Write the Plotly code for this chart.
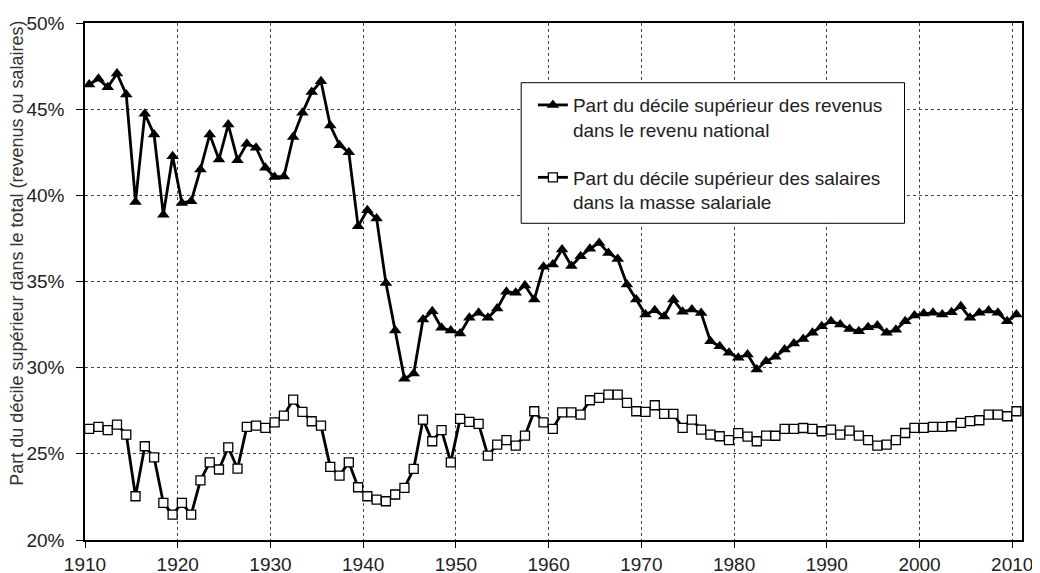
import plotly.graph_objects as go

# Years 1910-2010
years = list(range(1910, 2011))

# Part du décile supérieur des revenus dans le revenu national (%)
revenus = [
    46.43, 46.76, 46.27, 47.07, 45.85, 39.62, 44.73, 43.53, 38.87, 42.27,
    39.56, 39.66, 41.50, 43.53, 42.08, 44.11, 42.04, 42.99, 42.76, 41.60,
    41.07, 41.10, 43.39, 44.79, 45.99, 46.62, 44.05, 42.91, 42.50, 38.21,
    39.14, 38.65, 34.92, 32.15, 29.35, 29.66, 32.79, 33.27, 32.31, 32.15,
    31.98, 32.89, 33.18, 32.89, 33.43, 34.40, 34.34, 34.77, 33.95, 35.85,
    35.98, 36.85, 35.90, 36.47, 36.90, 37.24, 36.66, 36.31, 34.82, 33.95,
    33.08, 33.33, 32.97, 33.95, 33.25, 33.37, 33.17, 31.53, 31.24, 30.86,
    30.57, 30.77, 29.89, 30.37, 30.63, 31.05, 31.40, 31.67, 32.02, 32.40,
    32.69, 32.50, 32.25, 32.11, 32.35, 32.44, 32.02, 32.20, 32.69, 33.02,
    33.14, 33.18, 33.08, 33.22, 33.56, 32.89, 33.18, 33.31, 33.18, 32.69,
    33.08,
]

# Part du décile supérieur des salaires dans la masse salariale (%)
salaires = [
    26.45, 26.56, 26.37, 26.70, 26.12, 22.54, 25.44, 24.80, 22.15, 21.47,
    22.15, 21.47, 23.46, 24.51, 24.09, 25.38, 24.14, 26.56, 26.64, 26.51,
    26.83, 27.22, 28.15, 27.43, 26.89, 26.64, 24.24, 23.74, 24.51, 23.06,
    22.54, 22.34, 22.25, 22.64, 23.02, 24.13, 26.99, 25.73, 26.37, 24.51,
    27.03, 26.85, 26.74, 24.90, 25.54, 25.79, 25.48, 26.06, 27.47, 26.83,
    26.45, 27.41, 27.41, 27.28, 28.11, 28.25, 28.44, 28.44, 27.96, 27.47,
    27.43, 27.82, 27.32, 27.32, 26.51, 26.99, 26.41, 26.12, 26.02, 25.79,
    26.20, 26.00, 25.73, 26.06, 26.05, 26.45, 26.45, 26.50, 26.45, 26.31,
    26.40, 26.12, 26.35, 26.06, 25.79, 25.48, 25.54, 25.79, 26.21, 26.51,
    26.51, 26.56, 26.56, 26.60, 26.80, 26.90, 26.95, 27.28, 27.28, 27.18,
    27.47,
]

x_tick_years = list(range(1910, 2011, 10))
y_ticks = [20, 25, 30, 35, 40, 45, 50]

FONT = "Liberation Sans, Arial, sans-serif"

fig = go.Figure()

fig.add_trace(
    go.Scatter(
        x=years,
        y=revenus,
        name="Part du décile supérieur des revenus<br>dans le revenu national",
        mode="lines+markers",
        line=dict(color="black", width=2.8),
        marker=dict(symbol="triangle-up", size=11, color="black"),
        legendgroup="a",
    )
)

fig.add_trace(
    go.Scatter(
        x=years,
        y=salaires,
        name="Part du décile supérieur des salaires<br>dans la masse salariale",
        mode="lines+markers",
        line=dict(color="black", width=2.8),
        marker=dict(
            symbol="square",
            size=9,
            color="white",
            line=dict(color="black", width=1.3),
        ),
        legendgroup="b",
    )
)

# points sit a bit to the right of the decade gridlines in the original
fig.update_xaxes(
    range=[1909.55, 2010.6],
    tickvals=[t - 0.45 for t in x_tick_years],
    ticktext=[str(t) for t in x_tick_years],
    showgrid=True,
    gridcolor="#444",
    griddash="dot",
    gridwidth=1,
    showline=True,
    linecolor="black",
    linewidth=1.5,
    mirror=True,
    ticks="outside",
    ticklen=6,
    tickcolor="black",
    ticklabelstandoff=0,
    tickfont=dict(size=19, color="#222", family=FONT),
    zeroline=False,
    automargin=False,
)

fig.update_yaxes(
    range=[20, 50],
    tickvals=y_ticks,
    ticktext=[f"{v}%" for v in y_ticks],
    showgrid=True,
    gridcolor="#444",
    griddash="dot",
    gridwidth=1,
    showline=True,
    linecolor="black",
    linewidth=1.5,
    mirror=True,
    ticks="outside",
    ticklen=7,
    tickcolor="black",
    ticklabelstandoff=8,
    tickfont=dict(size=19, color="#222", family=FONT),
    zeroline=False,
    automargin=False,
)

fig.add_annotation(
    text="Part du décile supérieur dans le total (revenus ou salaires)",
    xref="paper",
    yref="paper",
    x=-0.073,
    y=0.555,
    xanchor="center",
    yanchor="middle",
    textangle=-90,
    showarrow=False,
    font=dict(size=18, color="#333", family=FONT),
)

# legend frame
fig.add_shape(
    type="rect",
    xref="paper",
    yref="paper",
    x0=0.4655,
    x1=0.8746,
    y0=0.6126,
    y1=0.8845,
    fillcolor="white",
    line=dict(color="black", width=1),
    layer="above",
)

fig.update_layout(
    width=1040,
    height=573,
    plot_bgcolor="white",
    paper_bgcolor="white",
    margin=dict(l=77, r=26, t=15, b=41),
    font=dict(family=FONT, color="#222"),
    legend=dict(
        x=0.478,
        y=0.878,
        xanchor="left",
        yanchor="top",
        bgcolor="rgba(0,0,0,0)",
        borderwidth=0,
        font=dict(size=19, color="#222", family=FONT),
        tracegroupgap=20,
        valign="top",
        itemwidth=30,
    ),
)

fig.write_html("out.html")
